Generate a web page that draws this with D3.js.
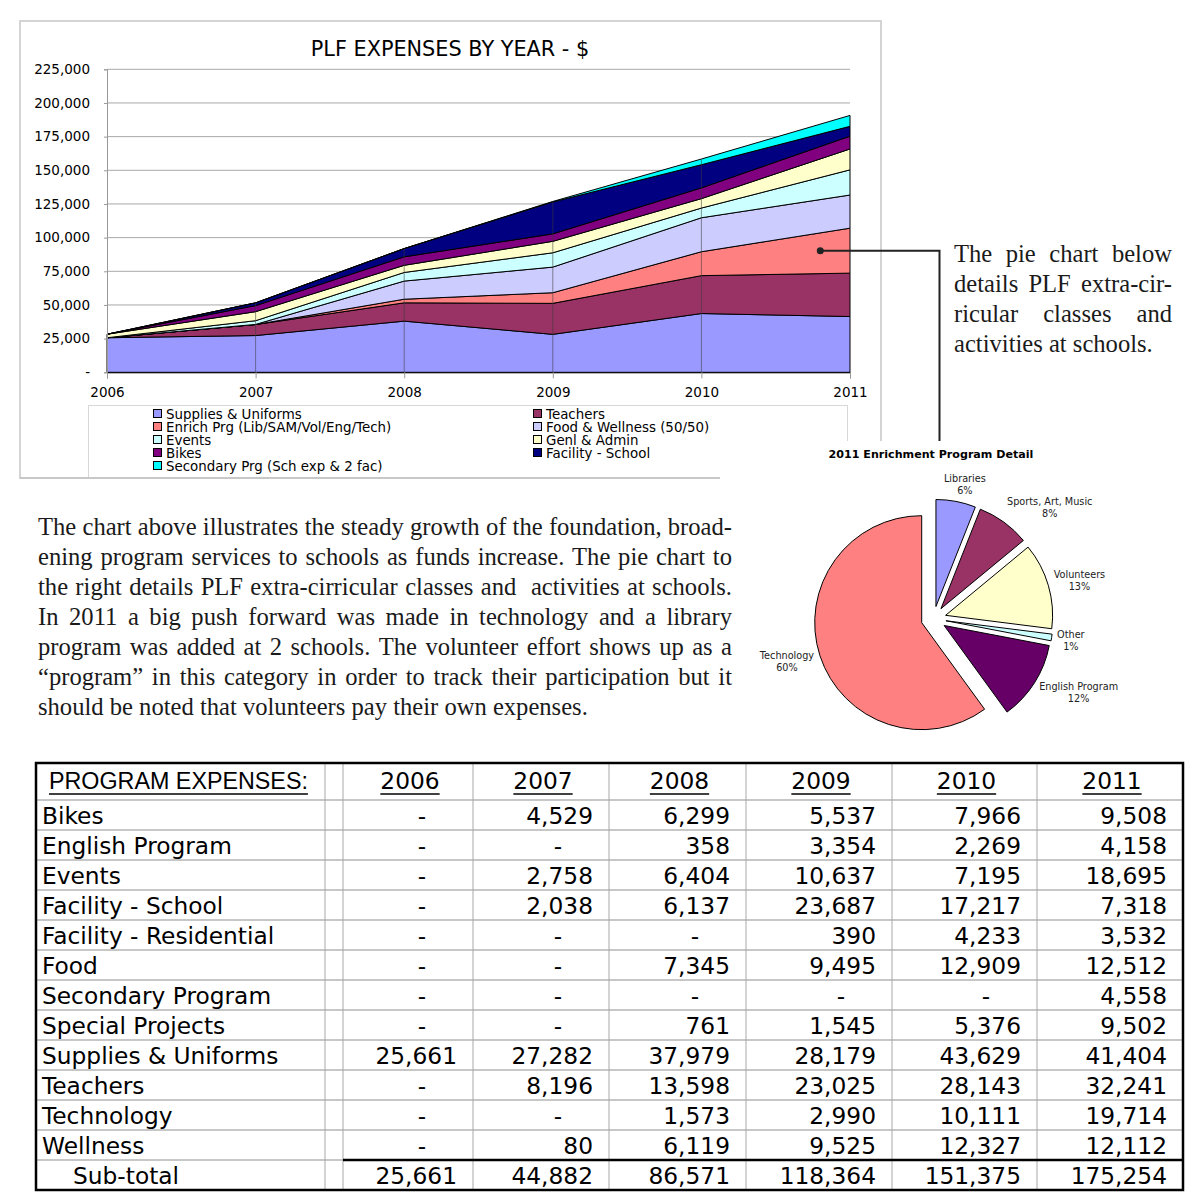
<!DOCTYPE html>
<html>
<head>
<meta charset="utf-8">
<script src="https://cdn.jsdelivr.net/npm/d3@7"></script>
<style>
  html, body { margin: 0; padding: 0; background: #fff; }
  svg { display: block; }
</style>
</head>
<body>
<script>
// ---------------- DATA ----------------
const years = [2006, 2007, 2008, 2009, 2010, 2011];

// Stacked area chart series (bottom to top)
const seriesNames = [
  "Supplies & Uniforms", "Teachers", "Enrich Prg (Lib/SAM/Vol/Eng/Tech)",
  "Food & Wellness (50/50)", "Events", "Genl & Admin", "Bikes",
  "Facility - School", "Secondary Prg (Sch exp & 2 fac)"
];
const seriesColors = ["#9999FF", "#993366", "#FF8080", "#CCCCFF", "#CCFFFF", "#FFFFCC", "#800080", "#000080", "#00FFFF"];
const suppliesUniforms = [25661, 27282, 37979, 28179, 43629, 41404];
const teachers         = [0, 8196, 13598, 23025, 28143, 32241];
const enrichPrg        = [0, 0, 2692, 7889, 17756, 33374];
const foodWellness     = [0, 80, 13464, 19020, 25236, 24624];
const events           = [0, 2758, 6404, 10637, 7195, 18695];
const genlAdmin        = [2600, 6700, 5300, 8500, 7000, 15500];
const bikes            = [0, 4529, 6299, 5537, 7966, 9508];
const facilitySchool   = [0, 2038, 6137, 23687, 17217, 7318];
const secondaryPrg     = [0, 0, 0, 390, 4233, 8090];
const seriesValues = [suppliesUniforms, teachers, enrichPrg, foodWellness, events, genlAdmin, bikes, facilitySchool, secondaryPrg];
const yTicks = [0, 25000, 50000, 75000, 100000, 125000, 150000, 175000, 200000, 225000];

// Pie chart
const pieLabels = ["Libraries", "Sports, Art, Music", "Volunteers", "Other", "English Program", "Technology"];
const piePercents = [6, 8, 13, 1, 12, 60];
const pieColors = ["#9999FF", "#993366", "#FFFFCC", "#CCFFFF", "#660066", "#FF8080"];

// Table
const tableYears = ["2006", "2007", "2008", "2009", "2010", "2011"];
const tableLabels = ["Bikes", "English Program", "Events", "Facility - School", "Facility - Residential", "Food",
  "Secondary Program", "Special Projects", "Supplies & Uniforms", "Teachers", "Technology", "Wellness"];
const tBikes      = [0, 4529, 6299, 5537, 7966, 9508];
const tEnglish    = [0, 0, 358, 3354, 2269, 4158];
const tEvents     = [0, 2758, 6404, 10637, 7195, 18695];
const tFacSchool  = [0, 2038, 6137, 23687, 17217, 7318];
const tFacRes     = [0, 0, 0, 390, 4233, 3532];
const tFood       = [0, 0, 7345, 9495, 12909, 12512];
const tSecondary  = [0, 0, 0, 0, 0, 4558];
const tSpecial    = [0, 0, 761, 1545, 5376, 9502];
const tSupplies   = [25661, 27282, 37979, 28179, 43629, 41404];
const tTeachers   = [0, 8196, 13598, 23025, 28143, 32241];
const tTech       = [0, 0, 1573, 2990, 10111, 19714];
const tWellness   = [0, 80, 6119, 9525, 12327, 12112];
const tSubtotal   = [25661, 44882, 86571, 118364, 151375, 175254];
const tableRows = [tBikes, tEnglish, tEvents, tFacSchool, tFacRes, tFood, tSecondary, tSpecial, tSupplies, tTeachers, tTech, tWellness];

const paraLeft = [
  "The chart above illustrates the steady growth of the foundation, broad-",
  "ening program services to schools as funds increase. The pie chart to",
  "the right details PLF extra-cirricular classes and  activities at schools.",
  "In 2011 a big push forward was made in technology and a library",
  "program was added at 2 schools. The volunteer effort shows up as a",
  "\u201Cprogram\u201D in this category in order to track their participation but it",
  "should be noted that volunteers pay their own expenses."
];
const paraRight = [
  "The pie chart below",
  "details PLF extra-cir-",
  "ricular classes and",
  "activities at schools."
];

// ---------------- SETUP ----------------
const VERD = "'DejaVu Sans', Verdana, sans-serif";
const SERIF = "'Liberation Serif', 'Times New Roman', serif";
const ARIAL = "'Liberation Sans', Arial, sans-serif";

const svg = d3.select("body").append("svg").attr("width", 1200).attr("height", 1200);
svg.append("rect").attr("width", 1200).attr("height", 1200).attr("fill", "#fff");

// ---------------- AREA CHART ----------------
const frame = svg.append("g");
frame.append("line").attr("x1", 20).attr("x2", 881).attr("y1", 21).attr("y2", 21).attr("stroke", "#d4d4d4").attr("stroke-width", 2);
frame.append("line").attr("x1", 20).attr("x2", 20).attr("y1", 20).attr("y2", 479).attr("stroke", "#d4d4d4").attr("stroke-width", 2);
frame.append("line").attr("x1", 881).attr("x2", 881).attr("y1", 20).attr("y2", 441).attr("stroke", "#d4d4d4").attr("stroke-width", 2);
frame.append("line").attr("x1", 20).attr("x2", 720).attr("y1", 478).attr("y2", 478).attr("stroke", "#c8c8c8").attr("stroke-width", 2);

const x = d3.scalePoint().domain(years).range([107, 850]);
const y = d3.scaleLinear().domain([0, 225000]).range([372.3, 69.3]);

svg.append("text").attr("x", 450).attr("y", 55.5).attr("text-anchor", "middle")
  .attr("font-family", VERD).attr("font-size", 20.8).attr("fill", "#000").text("PLF EXPENSES BY YEAR - $");

// horizontal gridlines
svg.append("g").selectAll("line").data(yTicks.filter(d => d > 0)).join("line")
  .attr("x1", x(2006)).attr("x2", x(2011)).attr("y1", d => y(d)).attr("y2", d => y(d))
  .attr("stroke", "#a8a8a8").attr("stroke-width", 1);

const keys = seriesNames;
const rows = years.map((yr, i) => {
  const o = { year: yr };
  keys.forEach((k, j) => { o[k] = seriesValues[j][i]; });
  return o;
});
const stacked = d3.stack().keys(keys)(rows);
const area = d3.area().x(d => x(d.data.year)).y0(d => y(d[0])).y1(d => y(d[1]));
svg.append("g").selectAll("path").data(stacked).join("path")
  .attr("d", area).attr("fill", (d, i) => seriesColors[i])
  .attr("stroke", "#000").attr("stroke-width", 1).attr("stroke-linejoin", "round");

// drop lines at each year
const totals = rows.map(r => d3.sum(keys, k => r[k]));
svg.append("g").selectAll("line").data(years.slice(1, -1)).join("line")
  .attr("x1", d => x(d)).attr("x2", d => x(d))
  .attr("y1", (d, i) => y(totals[i + 1])).attr("y2", y(0))
  .attr("stroke", "#3a3a3a").attr("stroke-opacity", 0.55).attr("stroke-width", 1);

// axes
const yAxis = d3.axisLeft(y).tickValues(yTicks).tickSize(3).tickPadding(14)
  .tickFormat(d => d === 0 ? "-" : d3.format(",")(d));
const gy = svg.append("g").attr("transform", `translate(${x(2006)},0)`).call(yAxis);
gy.select(".domain").attr("stroke", "#999");
gy.selectAll(".tick line").attr("stroke", "#999");
gy.selectAll("text").attr("font-family", VERD).attr("font-size", 13.5).attr("fill", "#000");

const xAxis = d3.axisBottom(x).tickSize(6).tickPadding(9).tickFormat(d3.format("d"));
const gx = svg.append("g").attr("transform", `translate(0,${y(0)})`).call(xAxis);
gx.select(".domain").attr("stroke", "#000");
gx.selectAll(".tick line").attr("stroke", "#999");
gx.selectAll("text").attr("font-family", VERD).attr("font-size", 13.5).attr("fill", "#000");

// legend box
const lg = svg.append("g");
lg.append("line").attr("x1", 88).attr("x2", 847).attr("y1", 405.5).attr("y2", 405.5).attr("stroke", "#d8d8d8");
lg.append("line").attr("x1", 88.5).attr("x2", 88.5).attr("y1", 405).attr("y2", 477).attr("stroke", "#d8d8d8");
lg.append("line").attr("x1", 847.5).attr("x2", 847.5).attr("y1", 405).attr("y2", 441).attr("stroke", "#d8d8d8");
const legItems = lg.selectAll("g.item").data(seriesNames).join("g").attr("class", "item")
  .attr("transform", (d, i) => `translate(${i % 2 === 0 ? 153 : 533},${414 + 13 * Math.floor(i / 2)})`);
legItems.append("rect").attr("x", 0.5).attr("y", -4.5).attr("width", 8).attr("height", 8)
  .attr("fill", (d, i) => seriesColors[i]).attr("stroke", "#000").attr("stroke-width", 1);
legItems.append("text").attr("x", 13).attr("y", 4.8).attr("font-family", VERD).attr("font-size", 13.4)
  .attr("fill", "#000").text(d => d);

// connector annotation
const enrichIdx = 2;
const dotX = x(2010) + 0.8 * (x(2011) - x(2010));
const dotY = y((stacked[enrichIdx][5][0] + stacked[enrichIdx][5][1]) / 2);
svg.append("path").attr("d", `M${dotX},${dotY}H939.5V441`).attr("fill", "none")
  .attr("stroke", "#222").attr("stroke-width", 2);
svg.append("circle").attr("cx", dotX).attr("cy", dotY).attr("r", 3.5).attr("fill", "#222");

// ---------------- TEXT PARAGRAPHS ----------------
function justified(lines, x0, x1, baseline0, lh, size) {
  const g = svg.append("g").attr("font-family", SERIF).attr("font-size", size).attr("fill", "#1a1a1a");
  lines.forEach((line, li) => {
    const yb = baseline0 + li * lh;
    if (li === lines.length - 1) {
      g.append("text").attr("x", x0).attr("y", yb).attr("xml:space", "preserve").text(line);
      return;
    }
    const words = line.split(" ");
    const nodes = words.map(w => g.append("text").attr("y", yb).text(w));
    const widths = nodes.map(n => n.node().getComputedTextLength());
    const gap = Math.max(2, (x1 - x0 - d3.sum(widths)) / (words.length - 1));
    let cx = x0;
    nodes.forEach((n, i) => { n.attr("x", cx); cx += widths[i] + gap; });
  });
}
justified(paraLeft, 38, 732, 535, 30, 24.6);
justified(paraRight, 954, 1172, 262, 30, 24.6);

// ---------------- PIE CHART ----------------
svg.append("text").attr("x", 931).attr("y", 458).attr("text-anchor", "middle")
  .attr("font-family", VERD).attr("font-weight", "bold").attr("font-size", 11.1).attr("fill", "#000")
  .text("2011 Enrichment Program Detail");

const pc = [933.6, 618.8], pr = 107, explode = 12.5;
const pie = d3.pie().sort(null).value(d => d);
const arcs = pie(piePercents);
const arcGen = d3.arc().innerRadius(0).outerRadius(pr);
const pg = svg.append("g").attr("transform", `translate(${pc[0]},${pc[1]})`);
pg.selectAll("path").data(arcs).join("path")
  .attr("transform", d => {
    const a = (d.startAngle + d.endAngle) / 2;
    return `translate(${explode * Math.sin(a)},${-explode * Math.cos(a)})`;
  })
  .attr("d", arcGen).attr("fill", (d, i) => pieColors[i])
  .attr("stroke", "#000").attr("stroke-width", 1).attr("stroke-linejoin", "round");

const labG = pg.append("g").attr("font-family", VERD).attr("font-size", 9.7).attr("fill", "#222");
arcs.forEach((d, i) => {
  const a = (d.startAngle + d.endAngle) / 2;
  const dx = Math.sin(a), dy = -Math.cos(a);
  const t = labG.append("text").attr("text-anchor", "middle");
  t.append("tspan").attr("x", 0).attr("dy", 0).text(pieLabels[i]);
  t.append("tspan").attr("x", 0).attr("dy", 12).text(piePercents[i] + "%");
  const w = t.node().getBBox().width;
  const R = 125;
  const sx = Math.max(-1, Math.min(1, 2 * dx));
  const cxl = dx * R + sx * w / 2;
  const cyl = dy * R + dy * 12;
  t.attr("transform", `translate(${cxl},${cyl - 2.5})`);
});

// ---------------- TABLE ----------------
const colX = [36, 325, 343, 473, 609, 746, 892, 1037, 1183];
const tTop = 763, hdrBottom = 800, rowH = 30;
const nRows = tableLabels.length + 1;
const tBottom = hdrBottom + nRows * rowH;
const TF = 23.3;
const tg = svg.append("g");
// horizontal grid lines
tg.selectAll("line.h").data(d3.range(nRows)).join("line").attr("class", "h")
  .attr("x1", colX[0]).attr("x2", colX[8]).attr("y1", d => hdrBottom + d * rowH).attr("y2", d => hdrBottom + d * rowH)
  .attr("stroke", "#b4b4b4").attr("stroke-width", 1.5);
// vertical grid lines
tg.selectAll("line.v").data(colX.slice(1, -1)).join("line").attr("class", "v")
  .attr("x1", d => d).attr("x2", d => d).attr("y1", tTop).attr("y2", tBottom)
  .attr("stroke", "#a8a8a8").attr("stroke-width", 1);
// subtotal top rule
tg.append("line").attr("x1", colX[2]).attr("x2", colX[8]).attr("y1", tBottom - rowH).attr("y2", tBottom - rowH)
  .attr("stroke", "#000").attr("stroke-width", 2.5);
// outer border
tg.append("rect").attr("x", colX[0]).attr("y", tTop).attr("width", colX[8] - colX[0]).attr("height", tBottom - tTop)
  .attr("fill", "none").attr("stroke", "#000").attr("stroke-width", 2.5);

// header
const hdr = tg.append("text").attr("x", 49).attr("y", 789).attr("font-family", ARIAL).attr("font-size", 23.3)
  .attr("fill", "#000").text("PROGRAM EXPENSES:");
const hw = hdr.node().getComputedTextLength();
tg.append("line").attr("x1", 49).attr("x2", 49 + hw).attr("y1", 794).attr("y2", 794).attr("stroke", "#000").attr("stroke-width", 1.3);
tableYears.forEach((yr, i) => {
  const cx = (colX[i + 2] + colX[i + 3]) / 2 + 2;
  const t = tg.append("text").attr("x", cx).attr("y", 789).attr("text-anchor", "middle")
    .attr("font-family", VERD).attr("font-size", TF).attr("fill", "#000").text(yr);
  const w = t.node().getComputedTextLength();
  tg.append("line").attr("x1", cx - w / 2).attr("x2", cx + w / 2).attr("y1", 794).attr("y2", 794)
    .attr("stroke", "#000").attr("stroke-width", 1.3);
});

const fmt = d3.format(",");
const allRows = tableRows.concat([tSubtotal]);
const allLabels = tableLabels.concat(["Sub-total"]);
allRows.forEach((vals, r) => {
  const yb = hdrBottom + r * rowH + 23.5;
  tg.append("text").attr("x", r === allRows.length - 1 ? 73 : 42).attr("y", yb)
    .attr("font-family", VERD).attr("font-size", TF).attr("fill", "#000").text(allLabels[r]);
  vals.forEach((v, c) => {
    const right = colX[c + 3];
    if (v === 0) {
      tg.append("text").attr("x", right - 51).attr("y", yb).attr("text-anchor", "middle")
        .attr("font-family", VERD).attr("font-size", TF).attr("fill", "#000").text("-");
    } else {
      tg.append("text").attr("x", right - 16).attr("y", yb).attr("text-anchor", "end")
        .attr("font-family", VERD).attr("font-size", TF).attr("fill", "#000").text(fmt(v));
    }
  });
});
</script>
</body>
</html>
